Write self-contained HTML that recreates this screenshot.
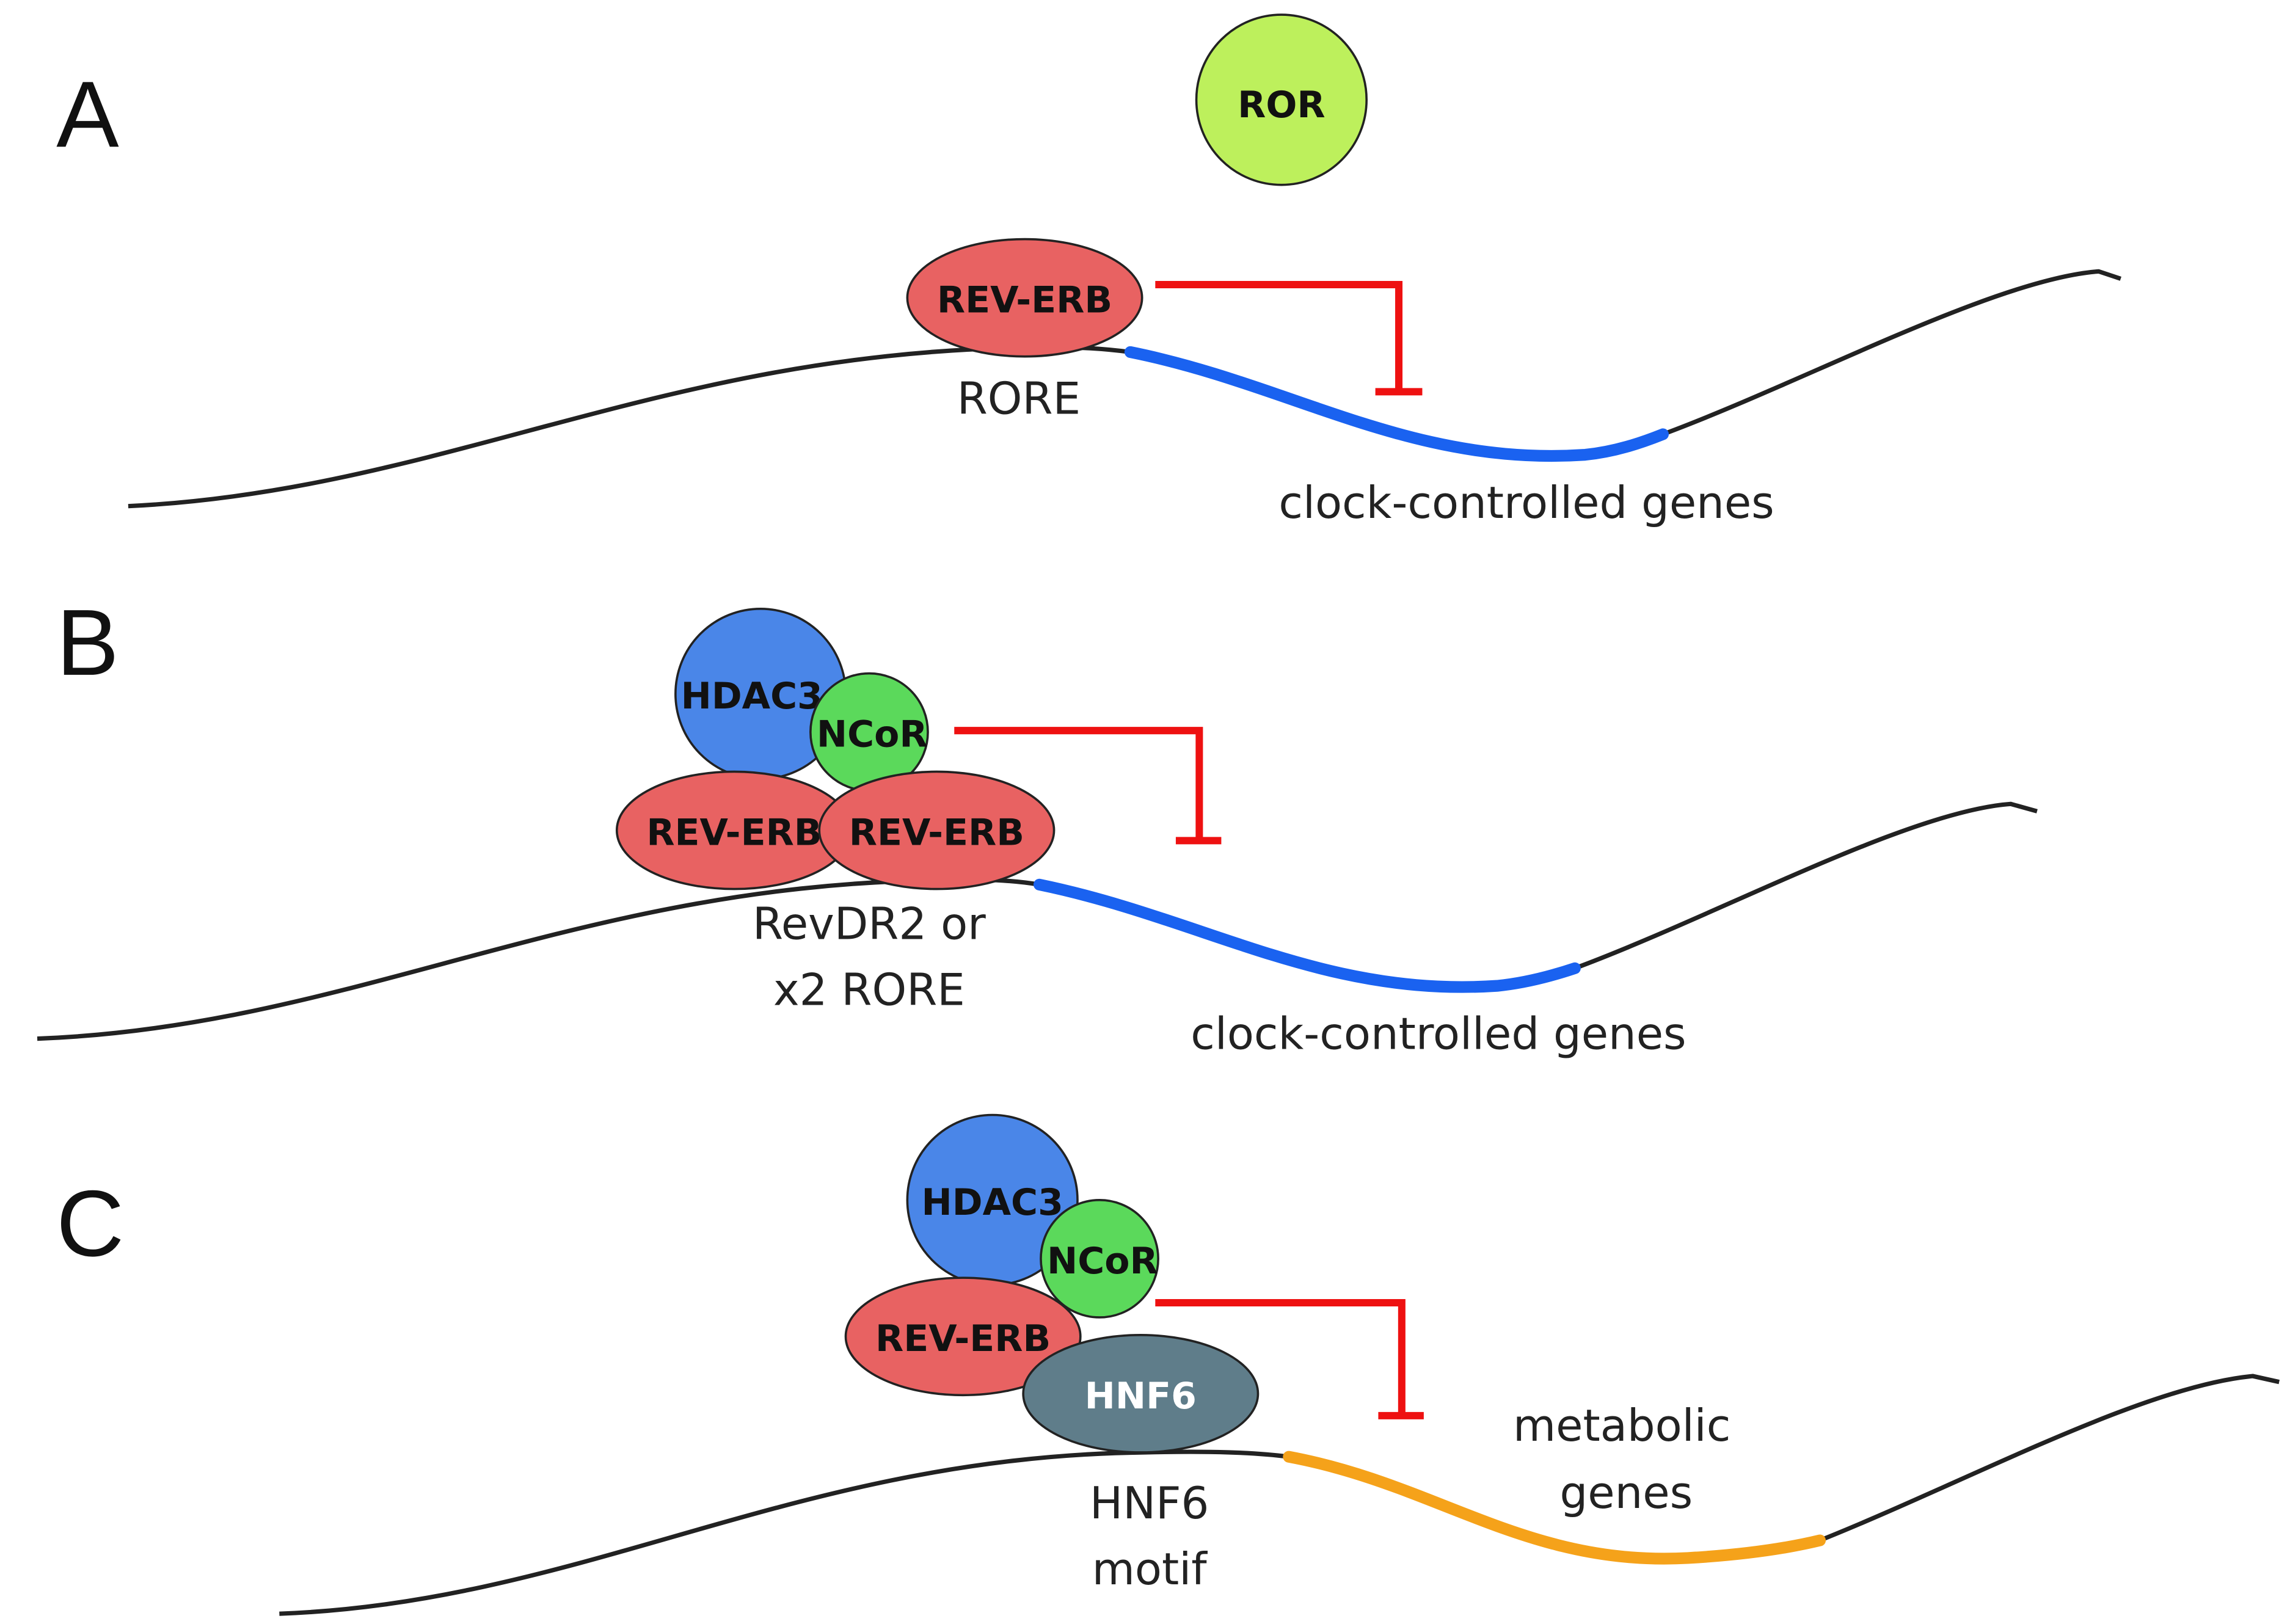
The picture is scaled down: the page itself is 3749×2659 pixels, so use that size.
<!DOCTYPE html>
<html><head><meta charset="utf-8"><style>
html,body{margin:0;padding:0;background:#fff;}
svg{display:block;}
text{font-family:"DejaVu Sans","Liberation Sans",sans-serif;}
.b{font-weight:bold;font-size:25px;fill:#111;text-anchor:middle;}
.l{font-size:30px;fill:#222;text-anchor:middle;}
.big{font-size:64px;fill:#111;font-family:"Liberation Sans",sans-serif;}
.dna{fill:none;stroke:#222;stroke-width:3;}
.inh{fill:none;stroke:#ee1111;stroke-width:5;}
.o{stroke:#222;stroke-width:1.5;}
</style></head><body>
<svg width="3749" height="2659" viewBox="0 0 1560 1107" xmlns="http://www.w3.org/2000/svg">
<rect width="1560" height="1107" fill="#fff"/>
<!-- Panel A -->
<text class="big" x="38" y="100">A</text>
<path class="dna" d="M87,345 C300,335 450,240 700,237 C735,236 755,238 770,240"/>
<path class="dna" d="M1133,296 C1230,260 1360,190 1430,185 L1445,190"/>
<path d="M770,240 C880,262 960,318 1080,310 C1100,308 1118,302 1133,296" fill="none" stroke="#1a62f0" stroke-width="8" stroke-linecap="round"/>
<circle class="o" cx="873" cy="68" r="58" fill="#bdf05c"/>
<text class="b" x="873" y="80">ROR</text>
<ellipse class="o" cx="698" cy="203" rx="80" ry="40" fill="#e86262"/>
<text class="b" x="698" y="213">REV-ERB</text>
<text class="l" x="694" y="282">RORE</text>
<path class="inh" d="M787,194 H953 V267 M937,267 H969"/>
<text class="l" x="1040" y="353">clock-controlled genes</text>
<!-- Panel B -->
<text class="big" x="38" y="460">B</text>
<path class="dna" d="M25,708 C240,700 390,603 640,600 C670,599 690,600 708,603"/>
<path class="dna" d="M1073,660 C1170,624 1300,553 1370,548 L1388,553"/>
<path d="M708,603 C820,626 900,680 1020,672 C1040,670 1058,665 1073,660" fill="none" stroke="#1a62f0" stroke-width="8" stroke-linecap="round"/>
<circle class="o" cx="518" cy="473" r="58" fill="#4a86e8"/>
<text class="b" x="512" y="483">HDAC3</text>
<circle class="o" cx="592" cy="499" r="40" fill="#5bd95b"/>
<text class="b" x="594" y="509">NCoR</text>
<ellipse class="o" cx="500" cy="566" rx="80" ry="40" fill="#e86262"/>
<text class="b" x="500" y="576">REV-ERB</text>
<ellipse class="o" cx="638" cy="566" rx="80" ry="40" fill="#e86262"/>
<text class="b" x="638" y="576">REV-ERB</text>
<path class="inh" d="M650,498 H817 V573 M801,573 H832"/>
<text class="l" x="592" y="640">RevDR2 or</text>
<text class="l" x="592" y="685">x2 RORE</text>
<text class="l" x="980" y="715">clock-controlled genes</text>
<!-- Panel C -->
<text class="big" x="38" y="856">C</text>
<path class="dna" d="M190,1100 C400,1092 540,993 780,990 C825,989 855,990 878,993"/>
<path class="dna" d="M1240,1050 C1340,1010 1460,945 1535,938 L1553,942"/>
<path d="M878,993 C980,1012 1040,1068 1150,1062 C1185,1060 1215,1056 1240,1050" fill="none" stroke="#f5a21a" stroke-width="8" stroke-linecap="round"/>
<circle class="o" cx="676" cy="818" r="58" fill="#4a86e8"/>
<text class="b" x="676" y="828">HDAC3</text>
<circle class="o" cx="749" cy="858" r="40" fill="#5bd95b"/>
<text class="b" x="751" y="868">NCoR</text>
<ellipse class="o" cx="656" cy="911" rx="80" ry="40" fill="#e86262"/>
<text class="b" x="656" y="921">REV-ERB</text>
<ellipse class="o" cx="777" cy="950" rx="80" ry="40" fill="#5f7d8a"/>
<text class="b" x="777" y="960" style="fill:#fff">HNF6</text>
<path class="inh" d="M787,888 H955 V965 M939,965 H970"/>
<text class="l" x="783" y="1035">HNF6</text>
<text class="l" x="783" y="1080">motif</text>
<text class="l" x="1105" y="982">metabolic</text>
<text class="l" x="1108" y="1028">genes</text>
</svg>
</body></html>
